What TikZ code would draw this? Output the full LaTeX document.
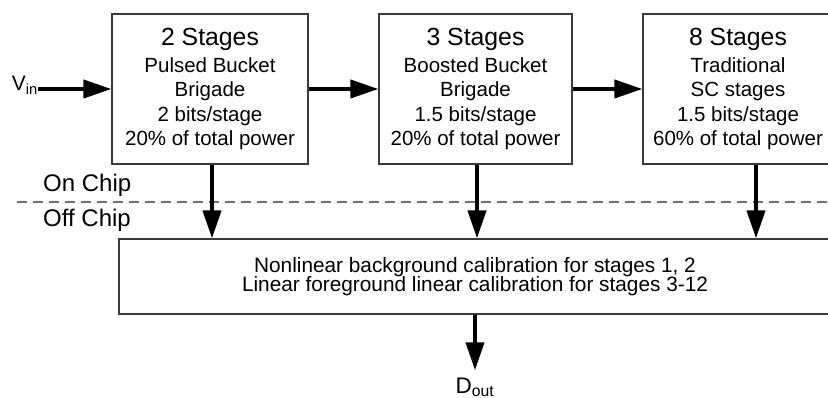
\documentclass[tikz,border=0pt]{standalone}
\usepackage{fontspec}
\setmainfont{Liberation Sans}
\usetikzlibrary{arrows.meta}
\definecolor{boxgray}{HTML}{3A3A3A}
\definecolor{dashgray}{HTML}{707070}
\newcommand{\calfont}{\fontsize{20.8}{19.5}\selectfont\setlength{\lineskiplimit}{-20pt}\setlength{\lineskip}{0pt}}
\tikzset{
  stage/.style={draw=boxgray, line width=1.2pt, align=center, inner sep=0pt,
    minimum height=150pt, font=\fontsize{20.5}{24.5}\selectfont},
  calib/.style={draw=boxgray, line width=1.2pt, align=center, inner sep=0pt,
    minimum height=75pt, font=\calfont},
  flow/.style={line width=4pt, -{Triangle[length=28pt,width=18pt]}},
  chipline/.style={dashgray, line width=1.5pt, dash pattern=on 10pt off 6pt},
  chiplbl/.style={inner sep=0pt, anchor=base west, font=\fontsize{24}{28}\selectfont},
  sig/.style={inner sep=0pt, font=\fontsize{21}{24}\selectfont}
}
\newcommand{\stagehead}[1]{{\fontsize{24.8}{28}\selectfont #1}\\[2.5pt]}

\begin{document}
\begin{tikzpicture}[x=1pt,y=-1pt]
\useasboundingbox (0,0) rectangle (828,398);
\node[stage, minimum width=196pt] (b1) at (210,89) {\stagehead{2 Stages}Pulsed Bucket\\Brigade\\2 bits/stage\\20\% of total power};
\node[stage, minimum width=193pt] (b2) at (475.5,89) {\stagehead{3 Stages}Boosted Bucket\\Brigade\\1.5 bits/stage\\20\% of total power};
\node[stage, minimum width=190pt] (b3) at (738,89) {\stagehead{8 Stages}Traditional\\SC stages\\1.5 bits/stage\\60\% of total power};
\node[calib, minimum width=712pt] (cal) at (475,276.5) {Nonlinear background calibration for stages 1, 2\\Linear foreground linear calibration for stages 3-12};
\node[sig, anchor=base east] (vin) at (38,91) {V\textsubscript{in}};
\node[sig, anchor=base, font=\fontsize{22.5}{26}\selectfont] (dout) at (475,393) {D\textsubscript{out}};
\node[chiplbl] (onchip) at (43,192) {On Chip};
\node[chiplbl] (offchip) at (43,227) {Off Chip};
\coordinate (chipL) at (17,202);
\draw[chipline] (chipL) -- (chipL -| cal.east);
\draw[flow] (vin.east |- b1.west) -- (b1.west);
\draw[flow] (b1) -- (b2);
\draw[flow] (b2) -- (b3);
\draw[flow] ([xshift=2pt]b1.south) -- ([xshift=2pt]b1.south |- cal.north);
\draw[flow] ([xshift=1.5pt]b2.south) -- ([xshift=1.5pt]b2.south |- cal.north);
\draw[flow] ([xshift=18pt]b3.south) -- ([xshift=18pt]b3.south |- cal.north);
\draw[flow] (cal.south -| dout.north) -- ([yshift=7pt]dout.north);
\end{tikzpicture}
\end{document}
